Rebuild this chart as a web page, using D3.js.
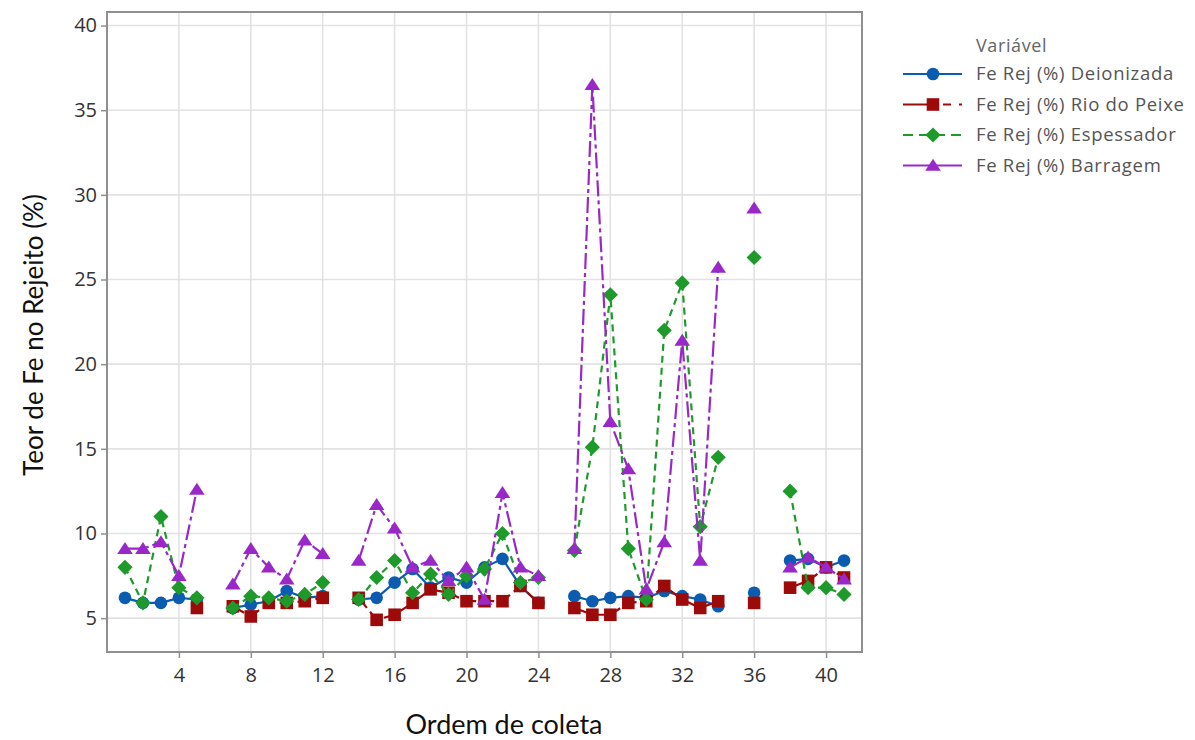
<!DOCTYPE html>
<html>
<head>
<meta charset="utf-8">
<script src="https://cdn.jsdelivr.net/npm/d3@7"></script>
<style>
  html, body { margin: 0; padding: 0; background: #ffffff; }
  svg { display: block; }
</style>
</head>
<body>
<svg id="chart" width="1195" height="740"></svg>
<script>
// Ordem de coleta (sample order)
const ordem = [1,2,3,4,5,6,7,8,9,10,11,12,13,14,15,16,17,18,19,20,21,22,23,24,25,26,27,28,29,30,31,32,33,34,35,36,37,38,39,40,41];

// Fe content in tailings (%) per water source; null = no sample
const deionizada = [6.2,5.9,5.9,6.2,6.1,null,5.6,5.8,6.0,6.6,6.2,6.3,null,6.1,6.2,7.1,7.9,6.8,7.4,7.1,8.0,8.5,6.9,5.9,null,6.3,6.0,6.2,6.3,6.2,6.6,6.3,6.1,5.7,null,6.5,null,8.4,8.5,8.0,8.4];
const rioDoPeixe = [null,null,null,null,5.6,null,5.7,5.1,5.9,5.9,6.0,6.2,null,6.2,4.9,5.2,5.9,6.7,6.5,6.0,6.0,6.0,6.9,5.9,null,5.6,5.2,5.2,5.9,6.0,6.9,6.1,5.6,6.0,null,5.9,null,6.8,7.2,8.0,7.4];
const espessador = [8.0,5.9,11.0,6.8,6.2,null,5.6,6.3,6.2,6.0,6.4,7.1,null,6.1,7.4,8.4,6.5,7.6,6.4,7.5,7.9,10.0,7.1,7.4,null,9.0,15.1,24.1,9.1,6.1,22.0,24.8,10.4,14.5,null,26.3,null,12.5,6.8,6.8,6.4];
const barragem = [9.1,9.1,9.5,7.5,12.6,null,7.0,9.1,8.0,7.3,9.6,8.8,null,8.4,11.7,10.3,8.0,8.4,7.2,8.0,6.1,12.4,8.0,7.5,null,9.1,36.5,16.6,13.8,6.7,9.5,21.4,8.4,25.7,null,29.2,null,8.0,8.6,8.0,7.3];

// Axis ticks
const xTicks = [4,8,12,16,20,24,28,32,36,40];
const yTicks = [5,10,15,20,25,30,35,40];

const seriesNames = ["Fe Rej (%) Deionizada", "Fe Rej (%) Rio do Peixe", "Fe Rej (%) Espessador", "Fe Rej (%) Barragem"];
const seriesValues = [deionizada, rioDoPeixe, espessador, barragem];

// marker shapes (centered at 0,0)
const markerPaths = {
  circle:   d3.symbol().type(d3.symbolCircle).size(125)(),
  square:   "M-6.3,-6.3H6.3V6.3H-6.3Z",
  diamond:  "M0,-7.6L7.6,0L0,7.6L-7.6,0Z",
  triangle: "M0,-6.8L7.8,5.2L-7.8,5.2Z"
};

const styles = [
  { color: "#0b5cb0", dash: null,       legendDash: null,       marker: "circle" },
  { color: "#9c0a0a", dash: "13,5",     legendDash: "32,8,8,8", marker: "square" },
  { color: "#1e9a2a", dash: "7,5",      legendDash: "10,6",     marker: "diamond" },
  { color: "#9a28c8", dash: "16,4,4,4", legendDash: null,       marker: "triangle" }
];

const svg = d3.select("#chart");
const plotLeft = 107, plotRight = 862, plotTop = 12, plotBottom = 652;

const x = d3.scaleLinear().domain([0, 42]).range([plotLeft, plotRight]);
const y = d3.scaleLinear().domain([3, 40.8]).range([plotBottom, plotTop]);

// plot background
svg.append("rect").attr("x", plotLeft).attr("y", plotTop)
  .attr("width", plotRight - plotLeft).attr("height", plotBottom - plotTop)
  .attr("fill", "#ffffff");

// gridlines
const grid = svg.append("g");
grid.selectAll("line.gx").data(xTicks).join("line").attr("class", "gx")
  .attr("x1", d => x(d)).attr("x2", d => x(d))
  .attr("y1", plotTop).attr("y2", plotBottom)
  .attr("stroke", "#e2e2e2").attr("stroke-width", 1.6);
grid.selectAll("line.gy").data(yTicks).join("line").attr("class", "gy")
  .attr("y1", d => y(d)).attr("y2", d => y(d))
  .attr("x1", plotLeft).attr("x2", plotRight)
  .attr("stroke", "#e2e2e2").attr("stroke-width", 1.6);

// clip to the data region
svg.append("clipPath").attr("id", "plotclip")
  .append("rect").attr("x", plotLeft).attr("y", plotTop)
  .attr("width", plotRight - plotLeft).attr("height", plotBottom - plotTop);

const plot = svg.append("g").attr("clip-path", "url(#plotclip)");

seriesValues.forEach((vals, i) => {
  const st = styles[i];
  const pts = ordem.map((o, k) => ({ o, v: vals[k] }));
  const line = d3.line()
    .defined(d => d.v !== null)
    .x(d => x(d.o)).y(d => y(d.v));
  plot.append("path")
    .datum(pts)
    .attr("d", line)
    .attr("fill", "none")
    .attr("stroke", st.color)
    .attr("stroke-width", 2.2)
    .attr("stroke-dasharray", st.dash);
  plot.selectAll(null)
    .data(pts.filter(d => d.v !== null))
    .join("path")
    .attr("transform", d => `translate(${x(d.o)},${y(d.v)})`)
    .attr("d", markerPaths[st.marker])
    .attr("fill", st.color);
});

// frame
svg.append("rect").attr("x", plotLeft).attr("y", plotTop)
  .attr("width", plotRight - plotLeft).attr("height", plotBottom - plotTop)
  .attr("fill", "none").attr("stroke", "#8f8f8f").attr("stroke-width", 2);

// axes
const yAxis = svg.append("g").attr("transform", `translate(${plotLeft},0)`)
  .call(d3.axisLeft(y).tickValues(yTicks).tickSize(6).tickPadding(4).tickFormat(d3.format("d")));
const xAxis = svg.append("g").attr("transform", `translate(0,${plotBottom})`)
  .call(d3.axisBottom(x).tickValues(xTicks).tickSize(6).tickPadding(10).tickFormat(d3.format("d")));

[yAxis, xAxis].forEach(ax => {
  ax.select(".domain").remove();
  ax.selectAll(".tick line").attr("stroke", "#8f8f8f").attr("stroke-width", 1.5);
  ax.selectAll(".tick text")
    .attr("fill", "#333333")
    .style("font-family", "'Open Sans', 'DejaVu Sans', sans-serif")
    .style("font-size", "20px");
});

// axis titles
svg.append("text")
  .attr("transform", "translate(43,335) rotate(-90)")
  .attr("text-anchor", "middle")
  .style("font-family", "Lato, 'Open Sans', sans-serif")
  .style("font-size", "26px")
  .attr("fill", "#111")
  .text("Teor de Fe no Rejeito (%)");

svg.append("text")
  .attr("x", 504).attr("y", 734)
  .attr("text-anchor", "middle")
  .style("font-family", "Lato, 'Open Sans', sans-serif")
  .style("font-size", "27px")
  .attr("fill", "#111")
  .text("Ordem de coleta");

// legend
const legend = svg.append("g");
legend.append("text")
  .attr("x", 976).attr("y", 52)
  .style("font-family", "'Open Sans', 'DejaVu Sans', sans-serif")
  .style("font-size", "18px")
  .style("letter-spacing", "0.6px")
  .attr("fill", "#666")
  .text("Variável");

seriesNames.forEach((name, i) => {
  const st = styles[i];
  const cy = 74 + i * 30.5;
  legend.append("line")
    .attr("x1", 903).attr("x2", 962).attr("y1", cy).attr("y2", cy)
    .attr("stroke", st.color).attr("stroke-width", 2.2)
    .attr("stroke-dasharray", st.legendDash);
  legend.append("path")
    .attr("transform", `translate(933,${cy})`)
    .attr("d", markerPaths[st.marker])
    .attr("fill", st.color);
  legend.append("text")
    .attr("x", 976).attr("y", cy + 6)
    .style("font-family", "'Open Sans', 'DejaVu Sans', sans-serif")
    .style("font-size", "18.5px")
    .style("letter-spacing", "0.7px")
    .attr("fill", "#555")
    .text(name);
});
</script>
</body>
</html>
